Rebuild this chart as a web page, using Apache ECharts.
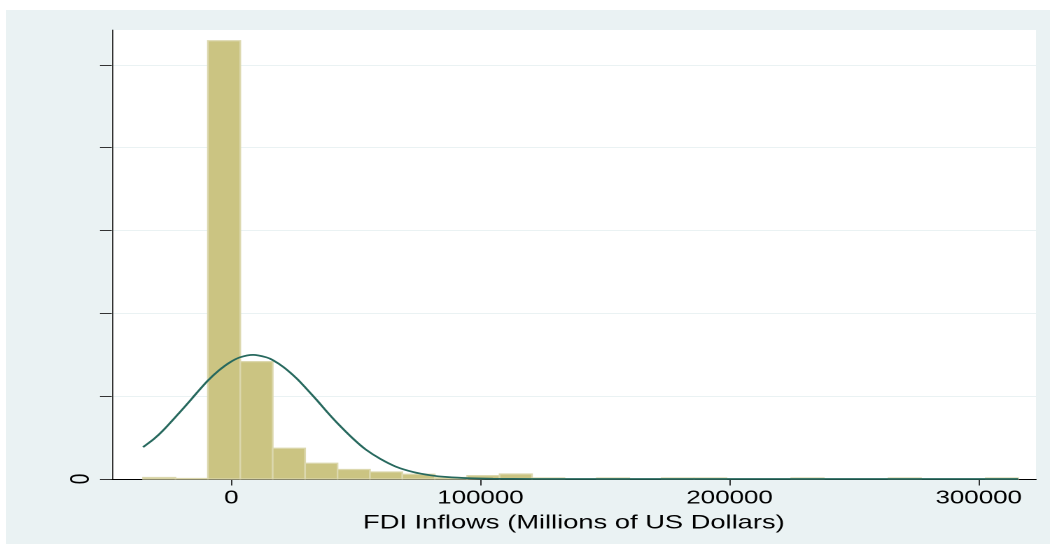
<!DOCTYPE html>
<html>
<head>
<meta charset="utf-8">
<script src="https://cdn.jsdelivr.net/npm/echarts@6/dist/echarts.min.js"></script>
<style>
  html, body { margin: 0; padding: 0; background: #ffffff; }
  #frame { position: absolute; left: 6px; top: 10px; width: 1044px; height: 534px; background: #eaf2f3; }
  /* the graph is laid out at 750 px wide and stretched to fill 1050 px */
  #chart { position: absolute; left: 0; top: 0; width: 750px; height: 544px;
           transform: scaleX(1.4); transform-origin: 0 0; }
</style>
</head>
<body>
<div id="frame"></div>
<div id="chart"></div>
<script>
// Histogram of FDI inflows (density scale) with a normal density overlay
const binStart = -35420;
const binWidth = 13010;
const binDensity = [
  1.8e-7, 0.7e-7, 5.29e-5, 1.417e-5, 3.71e-6, 1.90e-6, 1.15e-6, 8.5e-7, 5.7e-7,
  1.8e-7, 4.1e-7, 6.0e-7, 1.2e-7, 0, 1.2e-7, 0, 1.2e-7, 1.2e-7,
  0, 0, 1.2e-7, 0, 0, 1.2e-7, 0, 0, 1.2e-7
];

// normal density curve, sampled along the data range
const curveX = [
  -35420, -31000, -27410, -20700, -17000, -13990, -9325, -5000, -600, 3410,
  8760, 14140, 16800, 21000, 26200, 30000, 34240, 38000, 42280, 48950,
  54000, 59690, 66000, 73070, 80000, 86500, 95860, 105000, 120000, 140000,
  180000, 230000, 280000, 315860
];
const curveY = [
  0.385e-5, 0.485e-5, 0.585e-5, 0.805e-5, 0.930e-5, 1.035e-5, 1.190e-5, 1.310e-5, 1.407e-5, 1.468e-5,
  1.498e-5, 1.468e-5, 1.433e-5, 1.350e-5, 1.215e-5, 1.095e-5, 0.955e-5, 0.825e-5, 0.684e-5, 0.485e-5,
  0.355e-5, 0.245e-5, 0.150e-5, 0.084e-5, 0.045e-5, 0.024e-5, 0.009e-5, 0.003e-5, 0.0005e-5, 0,
  0, 0, 0, 0
];

const xTicks = [0, 100000, 200000, 300000];
const yTicks = [0, 1e-5, 2e-5, 3e-5, 4e-5, 5e-5];
const yLabels = [0];
const xTitle = 'FDI Inflows (Millions of US Dollars)';

const barData = binDensity.map((d, i) => [binStart + i * binWidth, binStart + (i + 1) * binWidth, d]);
const curveData = curveX.map((x, i) => [x, curveY[i]]);

const chart = echarts.init(document.getElementById('chart'), null, { renderer: 'canvas', devicePixelRatio: 2 });
const font = 'Liberation Sans, Arial, sans-serif';

chart.setOption({
  animation: false,
  backgroundColor: 'transparent',
  grid: { left: 79.8, right: 10, top: 30, bottom: 65, show: true, backgroundColor: '#ffffff', borderWidth: 0 },
  xAxis: {
    type: 'value',
    min: -48000,
    max: 323000,
    name: xTitle,
    nameLocation: 'middle',
    nameGap: 30,
    nameTextStyle: { fontFamily: font, fontSize: 19.5, color: '#000' },
    axisLine: { show: true, onZero: false, lineStyle: { color: '#000', width: 1 } },
    axisTick: { show: true, length: 6.5, customValues: xTicks, lineStyle: { color: '#000', width: 0.8 } },
    axisLabel: { customValues: xTicks, margin: 10, fontFamily: font, fontSize: 18.5, color: '#000',
                 formatter: v => String(v) },
    splitLine: { show: false }
  },
  yAxis: {
    type: 'value',
    min: 0,
    max: 5.42e-5,
    axisLine: { show: true, onZero: false, lineStyle: { color: '#000', width: 0.8 } },
    axisTick: { show: true, length: 8.4, customValues: yTicks, lineStyle: { color: '#333', width: 1 } },
    axisLabel: { customValues: yLabels, rotate: 90, margin: 12, fontFamily: font, fontSize: 19, color: '#000',
                 formatter: v => String(v) },
    splitLine: { show: true, lineStyle: { color: '#eaf2f3', width: 1 } }
  },
  series: [
    {
      type: 'custom',
      data: barData,
      encode: { x: [0, 1], y: 2 },
      z: 2,
      renderItem: (params, api) => {
        const y = api.value(2);
        if (!(y > 0)) return null;
        const p0 = api.coord([api.value(0), y]);
        const p1 = api.coord([api.value(1), 0]);
        return {
          type: 'rect',
          shape: { x: p0[0], y: p0[1], width: p1[0] - p0[0], height: p1[1] - p0[1] },
          style: { fill: '#cbc482', stroke: '#dcd8ae', lineWidth: 1.2 }
        };
      }
    },
    {
      type: 'line',
      data: curveData,
      showSymbol: false,
      smooth: 0.3,
      z: 3,
      lineStyle: { color: '#27695e', width: 1.7 }
    }
  ]
});
</script>
</body>
</html>
